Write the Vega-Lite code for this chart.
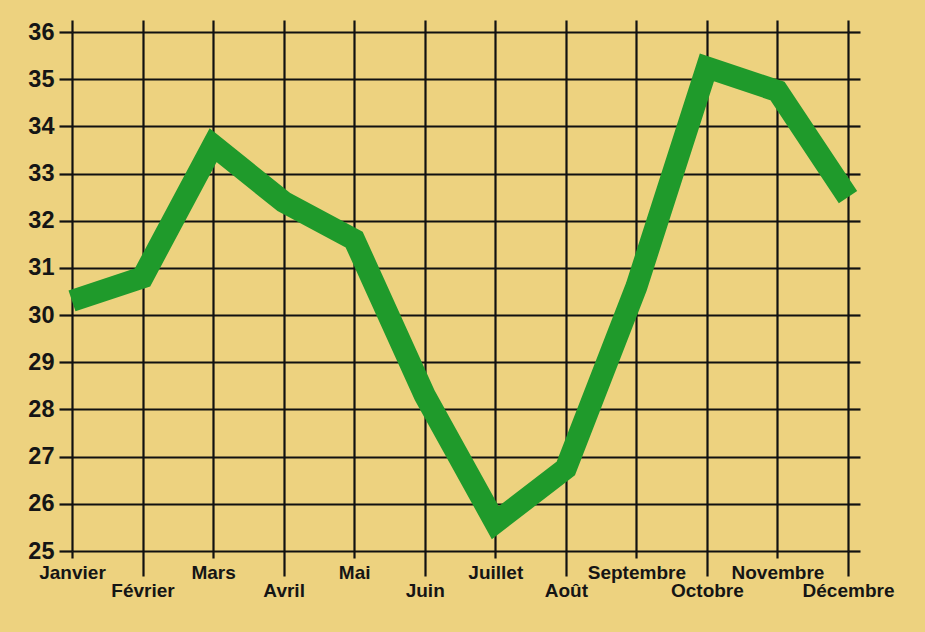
{
  "$schema": "https://vega.github.io/schema/vega-lite/v6.json",
  "width": 776,
  "height": 519,
  "autosize": {"type": "none"},
  "padding": {"left": 72, "top": 32, "right": 77, "bottom": 81},
  "background": "#EDD27F",
  "config": {
    "view": {"stroke": null},
    "axis": {
      "domain": false,
      "tickColor": "#111111",
      "tickWidth": 2.2,
      "gridColor": "#111111",
      "gridWidth": 2.2,
      "gridOpacity": 1,
      "labelFont": "Liberation Sans",
      "labelFontWeight": "bold",
      "labelColor": "#151515",
      "labelOverlap": false,
      "labelFlush": false
    }
  },
  "data": {
    "values": [
      {"mois": "Janvier", "valeur": 30.3},
      {"mois": "Février", "valeur": 30.8},
      {"mois": "Mars", "valeur": 33.6},
      {"mois": "Avril", "valeur": 32.4},
      {"mois": "Mai", "valeur": 31.6},
      {"mois": "Juin", "valeur": 28.3},
      {"mois": "Juillet", "valeur": 25.6},
      {"mois": "Août", "valeur": 26.75},
      {"mois": "Septembre", "valeur": 30.6},
      {"mois": "Octobre", "valeur": 35.25},
      {"mois": "Novembre", "valeur": 34.75},
      {"mois": "Décembre", "valeur": 32.5}
    ]
  },
  "layer": [
    {
      "mark": {"type": "line", "opacity": 0},
      "encoding": {
        "x": {"field": "mois", "type": "ordinal", "sort": null,
          "scale": {"type": "point", "padding": 0},
          "axis": {"orient": "top", "title": null, "labels": false, "tickSize": 12, "grid": false}},
        "y": {"field": "valeur", "type": "quantitative",
          "scale": {"domain": [25, 36], "nice": false, "zero": false},
          "axis": {"orient": "right", "title": null, "labels": false, "tickSize": 12, "grid": false,
            "values": [25, 26, 27, 28, 29, 30, 31, 32, 33, 34, 35, 36]}}
      }
    },
    {
      "mark": {"type": "line", "opacity": 0},
      "encoding": {
        "x": {"field": "mois", "type": "ordinal", "sort": null,
          "scale": {"type": "point", "padding": 0},
          "axis": {"orient": "bottom", "title": null, "tickSize": 25, "grid": true,
            "values": ["Février", "Avril", "Juin", "Août", "Octobre", "Décembre"],
            "labelFontSize": 19, "labelPadding": 5, "labelBaseline": "top", "labelAngle": 0}},
        "y": {"field": "valeur", "type": "quantitative",
          "scale": {"domain": [25, 36], "nice": false, "zero": false},
          "axis": null}
      }
    },
    {
      "mark": {"type": "line", "color": "#1F9A2B", "strokeWidth": 22, "strokeJoin": "miter", "strokeCap": "butt"},
      "encoding": {
        "x": {"field": "mois", "type": "ordinal", "sort": null,
          "scale": {"type": "point", "padding": 0},
          "axis": {"orient": "bottom", "title": null, "tickSize": 7, "grid": true,
            "values": ["Janvier", "Mars", "Mai", "Juillet", "Septembre", "Novembre"],
            "labelFontSize": 19, "labelPadding": 5, "labelBaseline": "top", "labelAngle": 0}},
        "y": {"field": "valeur", "type": "quantitative",
          "scale": {"domain": [25, 36], "nice": false, "zero": false},
          "axis": {"orient": "left", "title": null, "tickSize": 13, "grid": true, "labelPadding": 5,
            "labelFontSize": 23.5,
            "values": [25, 26, 27, 28, 29, 30, 31, 32, 33, 34, 35, 36]}}
      }
    }
  ],
  "resolve": {"axis": {"x": "independent", "y": "independent"}}
}
